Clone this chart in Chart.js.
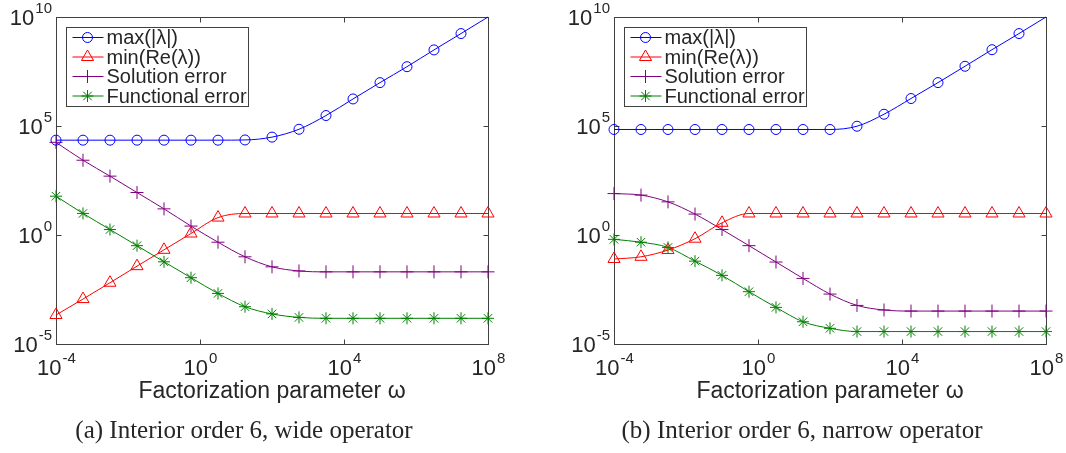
<!DOCTYPE html>
<html>
<head>
<meta charset="utf-8">
<script src="https://cdn.jsdelivr.net/npm/chart.js@4.4.0/dist/chart.umd.min.js"></script>
<style>
  html, body { margin: 0; padding: 0; background: #fff; }
  #fig { position: relative; width: 1066px; height: 453px; }
  .panel { position: absolute; top: 0; }
</style>
</head>
<body>
<div id="fig">
  <div class="panel" style="left:0"><canvas id="chartA" width="508" height="453"></canvas></div>
  <div class="panel" style="left:558px"><canvas id="chartB" width="508" height="453"></canvas></div>
</div>
<script>
// factorization parameter values (x)
var omega = [1e-4, 5.62e-4, 3.16e-3, 1.78e-2, 0.1, 0.562, 3.16, 17.8, 100, 562, 3160, 17800, 1e5, 5.62e5, 3.16e6, 1.78e7, 1e8];
var seriesLabels = ['max(|λ|)', 'min(Re(λ))', 'Solution error', 'Functional error'];
var xTicks = [1e-4, 1, 1e4, 1e8];
var yTicks = [1e-5, 1, 1e5, 1e10];

// (a) wide operator
var maxEigA = [22400, 22400, 22400, 22400, 22400, 22400, 22400, 22900, 30900, 70800, 302000, 1.74e6, 9.77e6, 5.25e7, 3.09e8, 1.74e9, 1e10];
var minReA  = [2.14e-4, 1.15e-3, 6.46e-3, 0.0372, 0.209, 1.17, 6.3, 9.7, 9.7, 9.7, 9.7, 9.7, 9.7, 9.7, 9.7, 9.7, 9.7];
var solErrA = [17800, 2690, 501, 89, 15.8, 2.57, 0.468, 0.1, 0.0347, 0.0224, 0.0204, 0.0204, 0.0204, 0.0204, 0.0204, 0.0204, 0.0204];
var funErrA = [60.3, 9.77, 1.78, 0.324, 0.0589, 0.011, 0.00209, 5.13e-4, 2.4e-4, 1.66e-4, 1.51e-4, 1.51e-4, 1.51e-4, 1.51e-4, 1.51e-4, 1.51e-4, 1.51e-4];

// (b) narrow operator
var maxEigB = [69200, 69200, 69200, 69200, 69200, 69200, 69200, 69200, 69200, 97700, 347000, 1.82e6, 9.77e6, 5.5e7, 3.16e8, 1.74e9, 1e10];
var minReB  = [0.0794, 0.1, 0.204, 0.676, 3.63, 9.7, 9.7, 9.7, 9.7, 9.7, 9.7, 9.7, 9.7, 9.7, 9.7, 9.7, 9.7];
var solErrB = [79.4, 67.6, 33.1, 9.12, 1.78, 0.324, 0.0575, 0.0102, 0.00195, 5.89e-4, 3.63e-4, 3.24e-4, 3.24e-4, 3.24e-4, 3.24e-4, 3.24e-4, 3.24e-4];
var funErrB = [0.631, 0.468, 0.269, 0.0631, 0.0141, 0.00251, 4.79e-4, 1.05e-4, 5.25e-5, 3.72e-5, 3.72e-5, 3.72e-5, 3.72e-5, 3.72e-5, 3.72e-5, 3.72e-5, 3.72e-5];

var colors = ['#0000ff', '#ff0000', '#800080', '#008000'];
var markers = ['circle', 'triangle', 'cross', 'star'];
var markerSize = [5, 7, 6.5, 6];
var textColor = '#262626';
var sansFont = '"Liberation Sans", Arial, sans-serif';

function pts(arr) {
  return omega.map(function(x, i) { return { x: x, y: arr[i] }; });
}

function makeDatasets(series) {
  return series.map(function(arr, k) {
    return {
      label: seriesLabels[k],
      data: pts(arr),
      borderColor: colors[k],
      backgroundColor: 'rgba(0,0,0,0)',
      borderWidth: 1,
      pointStyle: markers[k],
      pointBorderColor: colors[k],
      pointBackgroundColor: 'rgba(0,0,0,0)',
      pointBorderWidth: 1,
      pointRadius: k === 0 ? function(c) { return c.dataIndex === omega.length - 1 ? 0 : markerSize[0]; } : markerSize[k],
      cubicInterpolationMode: 'monotone',
      clip: false
    };
  });
}

// "10" with a raised exponent
function drawPow(ctx, exp, x, y, align) {
  ctx.font = '22px ' + sansFont;
  var w1 = ctx.measureText('10').width;
  ctx.font = '15px ' + sansFont;
  var w2 = ctx.measureText(String(exp)).width;
  var x0 = align === 'right' ? x - w1 - w2 : x - (w1 + w2) / 2;
  ctx.textAlign = 'left';
  ctx.textBaseline = 'middle';
  ctx.font = '22px ' + sansFont;
  ctx.fillText('10', x0, y);
  ctx.font = '15px ' + sansFont;
  ctx.fillText(String(exp), x0 + w1 + 1, y - 10);
}

var axesBox = {
  id: 'axesBox',
  beforeDatasetsDraw: function(chart) {
    var ctx = chart.ctx, ca = chart.chartArea;
    var xs = chart.scales.x, ys = chart.scales.y;
    var L = Math.round(ca.left) + 0.5, R = Math.round(ca.right) + 0.5;
    var T = Math.round(ca.top) + 0.5, B = Math.round(ca.bottom) + 0.5;
    ctx.save();
    ctx.strokeStyle = '#404040';
    ctx.lineWidth = 1;
    ctx.strokeRect(L, T, R - L, B - T);
    ctx.beginPath();
    xTicks.forEach(function(v) {
      var px = Math.round(xs.getPixelForValue(v)) + 0.5;
      ctx.moveTo(px, B); ctx.lineTo(px, B - 5);
      ctx.moveTo(px, T); ctx.lineTo(px, T + 5);
    });
    yTicks.forEach(function(v) {
      var py = Math.round(ys.getPixelForValue(v)) + 0.5;
      ctx.moveTo(L, py); ctx.lineTo(L + 5, py);
      ctx.moveTo(R, py); ctx.lineTo(R - 5, py);
    });
    ctx.stroke();
    ctx.fillStyle = textColor;
    xTicks.forEach(function(v) {
      drawPow(ctx, Math.round(Math.log10(v)), xs.getPixelForValue(v), ca.bottom + 25, 'center');
    });
    yTicks.forEach(function(v) {
      drawPow(ctx, Math.round(Math.log10(v)), ca.left - 5, ys.getPixelForValue(v) + 2, 'right');
    });
    ctx.restore();
  },
  afterDatasetsDraw: function(chart) {
    var ctx = chart.ctx, ca = chart.chartArea;
    var bx = Math.round(ca.left) + 10.5, by = Math.round(ca.top) + 10.5;
    var bw = 182, bh = 79;
    ctx.save();
    ctx.fillStyle = '#fff';
    ctx.fillRect(bx, by, bw, bh);
    ctx.strokeStyle = '#404040';
    ctx.lineWidth = 1;
    ctx.strokeRect(bx, by, bw, bh);
    chart.data.datasets.forEach(function(ds, k) {
      var cy = by + 10 + k * 19.5;
      ctx.strokeStyle = colors[k];
      ctx.beginPath();
      ctx.moveTo(bx + 6, cy); ctx.lineTo(bx + 37, cy);
      ctx.stroke();
      ctx.fillStyle = 'rgba(0,0,0,0)';
      if (Chart.helpers && Chart.helpers.drawPoint) {
        Chart.helpers.drawPoint(ctx, { pointStyle: markers[k], radius: markerSize[k], rotation: 0, borderWidth: 1 }, bx + 21, cy);
      }
      ctx.fillStyle = textColor;
      ctx.font = '20px ' + sansFont;
      ctx.textAlign = 'left';
      ctx.textBaseline = 'middle';
      ctx.fillText(ds.label, bx + 40, cy + 1);
    });
    ctx.restore();
  }
};

function makeChart(id, series, caption, yWidth) {
  return new Chart(document.getElementById(id).getContext('2d'), {
    type: 'line',
    data: { datasets: makeDatasets(series) },
    options: {
      responsive: false,
      animation: false,
      layout: { padding: { left: 0, right: 20, top: 17, bottom: 0 } },
      scales: {
        x: {
          type: 'logarithmic', min: 1e-4, max: 1e8,
          grid: { display: false }, border: { display: false },
          ticks: { display: false },
          afterBuildTicks: function(s) { s.ticks = xTicks.map(function(v) { return { value: v }; }); },
          title: { display: true, text: 'Factorization parameter ω', color: textColor,
                   font: { family: sansFont, size: 23 }, padding: { top: 0, bottom: 11 } },
          afterFit: function(s) { s.height = 72; }
        },
        y: {
          type: 'logarithmic', min: 1e-5, max: 1e10,
          grid: { display: false }, border: { display: false },
          ticks: { display: false },
          afterBuildTicks: function(s) { s.ticks = yTicks.map(function(v) { return { value: v }; }); },
          afterFit: function(s) { s.width = yWidth; }
        }
      },
      plugins: {
        legend: { display: false },
        tooltip: { enabled: false },
        title: { display: true, position: 'bottom', text: caption, color: textColor,
                 font: { family: '"Liberation Serif", "Times New Roman", serif', size: 25, weight: 'normal' },
                 padding: { top: 0, bottom: 7 } }
      }
    },
    plugins: [axesBox]
  });
}

makeChart('chartA', [maxEigA, minReA, solErrA, funErrA], '(a) Interior order 6, wide operator', 56);
makeChart('chartB', [maxEigB, minReB, solErrB, funErrB], '(b) Interior order 6, narrow operator', 56);
</script>
</body>
</html>
